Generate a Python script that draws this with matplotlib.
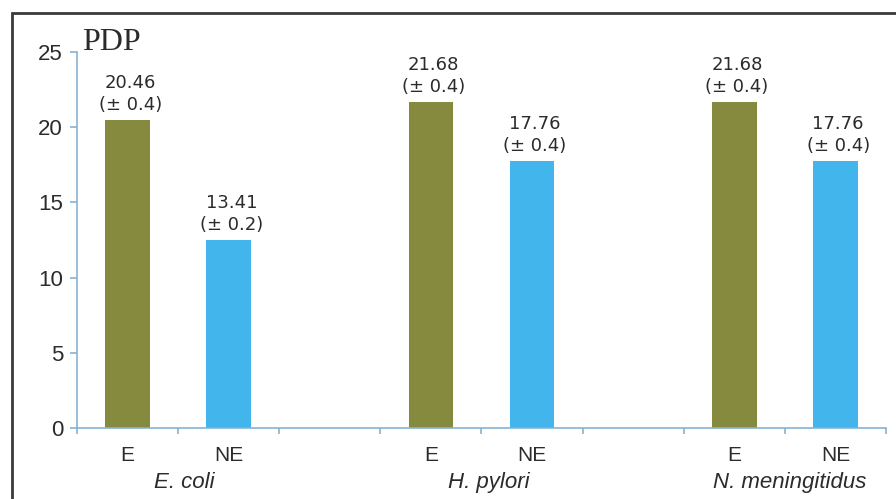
import matplotlib.pyplot as plt
from matplotlib.patches import Rectangle

# values
slot_labels = ['E', 'NE', '', 'E', 'NE', '', 'E', 'NE']
bar_slots = [0, 1, 3, 4, 6, 7]
bar_heights = [20.46, 12.5, 21.68, 17.76, 21.68, 17.76]
bar_texts = ['20.46\n(± 0.4)', '13.41\n(± 0.2)', '21.68\n(± 0.4)',
             '17.76\n(± 0.4)', '21.68\n(± 0.4)', '17.76\n(± 0.4)']
bar_kinds = ['E', 'NE', 'E', 'NE', 'E', 'NE']
species = ['E. coli', 'H. pylori', 'N. meningitidus']
species_pos = [0.56, 3.57, 6.55]

colors = {'E': '#868a3f', 'NE': '#42b5ec'}
axis_col = '#86b3d3'
text_col = '#2b2b2b'

fig = plt.figure(figsize=(8.96, 4.99), dpi=100)
ax = fig.add_axes([0.0859, 0.1423, 0.9029, 0.7535])

ax.bar(bar_slots, bar_heights, width=0.44,
       color=[colors[k] for k in bar_kinds], zorder=2)

for s, h, t in zip(bar_slots, bar_heights, bar_texts):
    ax.annotate(t, (s, h), xytext=(2, 4.3), textcoords='offset points',
                ha='center', va='bottom', fontsize=13, color=text_col,
                linespacing=1.3, family='DejaVu Sans')

ax.set_xlim(-0.5, 7.5)
ax.set_ylim(0, 25)
ax.set_yticks([0, 5, 10, 15, 20, 25])

# category labels at slot centres, ticks at slot boundaries
ax.set_xticks(range(len(slot_labels)))
ax.set_xticklabels(slot_labels, fontsize=15, color=text_col, family='Liberation Sans')
ax.tick_params(axis='x', which='major', length=0, pad=13)
ax.set_xticks([i - 0.5 for i in range(len(slot_labels) + 1)], minor=True)
ax.tick_params(axis='x', which='minor', length=4, width=1.2, color=axis_col, direction='out')
ax.tick_params(axis='y', length=5, width=1.2, color=axis_col, labelsize=16,
               labelcolor=text_col, pad=5)
for lab in ax.get_yticklabels():
    lab.set_family('Liberation Sans')

for side in ['top', 'right']:
    ax.spines[side].set_visible(False)
for side in ['left', 'bottom']:
    ax.spines[side].set_color(axis_col)
    ax.spines[side].set_linewidth(1.2)

for name, x in zip(species, species_pos):
    ax.text(x, -0.16, name, transform=ax.get_xaxis_transform(), ha='center',
            va='baseline', fontsize=16, style='italic', color=text_col,
            family='Liberation Sans')

ax.text(0.006, 1.005, 'PDP', transform=ax.transAxes, ha='left', va='baseline',
        fontsize=23, family='Liberation Serif', color=text_col)

# outer frame, cut off at right and bottom
fig.patches.append(Rectangle((12 / 896, -0.1), 1.2, (499 - 13) / 499 + 0.1,
                             transform=fig.transFigure, fill=False,
                             edgecolor='#3a3a3a', linewidth=2))

fig.savefig('out.png', dpi=100)
